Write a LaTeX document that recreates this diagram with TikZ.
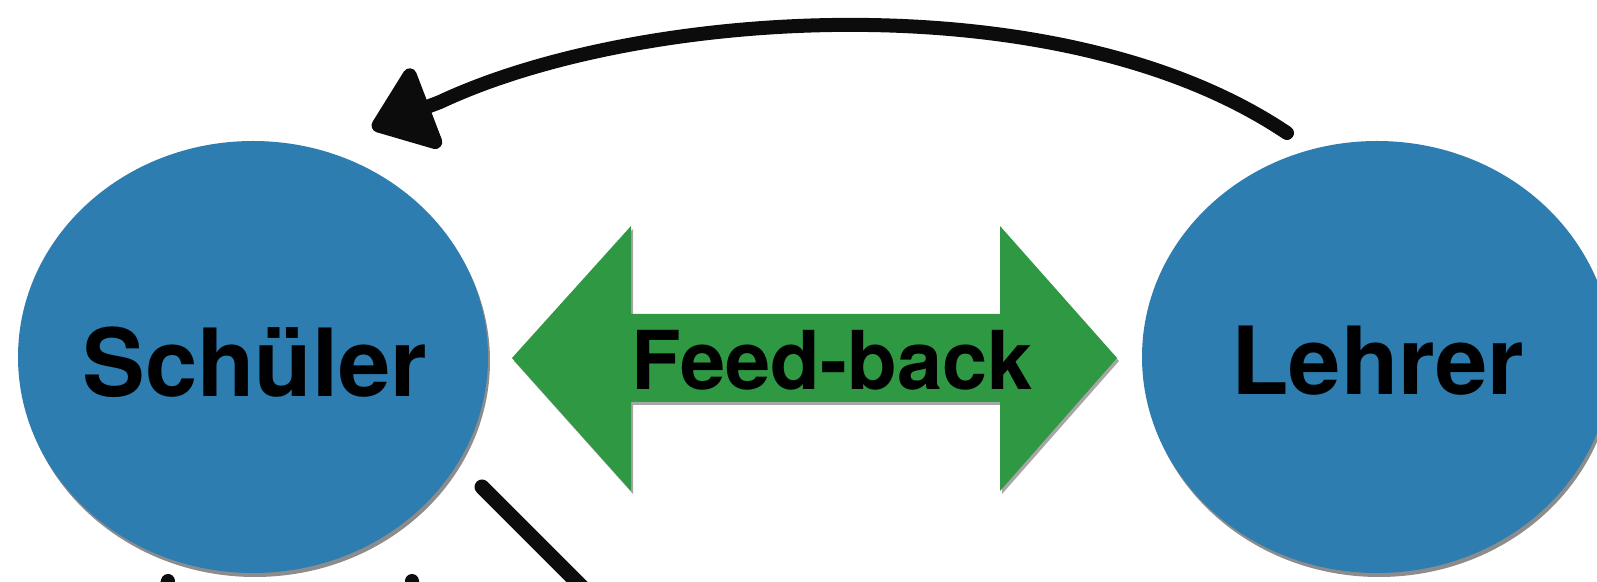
\documentclass[tikz,border=0pt]{standalone}
\usepackage{fontspec}
\setmainfont{TeX Gyre Heros}
\usetikzlibrary{shapes.geometric,shadows,arrows.meta,calc}
\definecolor{roleblue}{RGB}{46,125,177}
\definecolor{fbgreen}{RGB}{46,152,66}
\definecolor{inkblack}{RGB}{12,12,12}
\begin{document}
\begin{tikzpicture}[x=0.5pt,y=-0.5pt,
  role/.style={ellipse, fill=roleblue, inner sep=0pt,
    minimum width=235pt, minimum height=216pt,
    drop shadow={shadow xshift=1pt, shadow yshift=-2pt, opacity=0.45, fill=black}},
  roletext/.style={inner sep=0pt, anchor=base, text=black,
    font=\fontsize{47}{47}\selectfont\bfseries},
  fbtext/.style={inner sep=0pt, anchor=base, text=black,
    font=\fontsize{40.6}{40.6}\selectfont\bfseries},
  ink/.style={draw=inkblack, line width=7pt, line cap=round, line join=round},
]
\useasboundingbox (0,0) rectangle (1597,582);
\clip (0,0) rectangle (1597,582);
\fill[white] (0,0) rectangle (1597,582);

% role ellipses
\node[role] (s) at (253,357) {};
\node[role] (l) at (1377,357) {};
\node[roletext] (stext) at ($(s.center)+(2,40)$) {Schüler};
\node[roletext] (ltext) at ($(l.center)+(1,38)$) {Lehrer};

% green double arrow
\fill[fbgreen, drop shadow={shadow xshift=1pt, shadow yshift=-1.5pt, opacity=0.35, fill=black}]
  (512,358) -- (631,226) -- (631,314) -- (1000,314) -- (1000,226) -- (1117,358)
  -- (1000,491) -- (1000,402) -- (631,402) -- (631,491) -- cycle;
\node[fbtext] (fb) at (832,390) {Feed-back};

% hand-drawn curved arrow from Lehrer to Schüler
\coordinate (a0) at ($(l.center)+(-90,-224)$);
\coordinate (a1) at ($(s.center)+(119,-229)$);
\draw[ink, -{Triangle[length=33pt, width=48pt, round]}]
  (a0) .. controls (1060,-20) and (640,8) .. (440,102) -- (a1);

% strokes running off the bottom edge
\coordinate (d0) at ($(s.center)+(229,130)$);
\coordinate (d1) at (610,615);
\draw[ink, line width=7.5pt] (d0) -- (d1);
\coordinate (b0) at (168,581);
\coordinate (b1) at (160,610);
\draw[ink, line width=7pt] (b0) -- (b1);
\coordinate (c0) at (412,581);
\coordinate (c1) at (414,610);
\draw[ink, line width=7pt] (c0) -- (c1);
\end{tikzpicture}
\end{document}
